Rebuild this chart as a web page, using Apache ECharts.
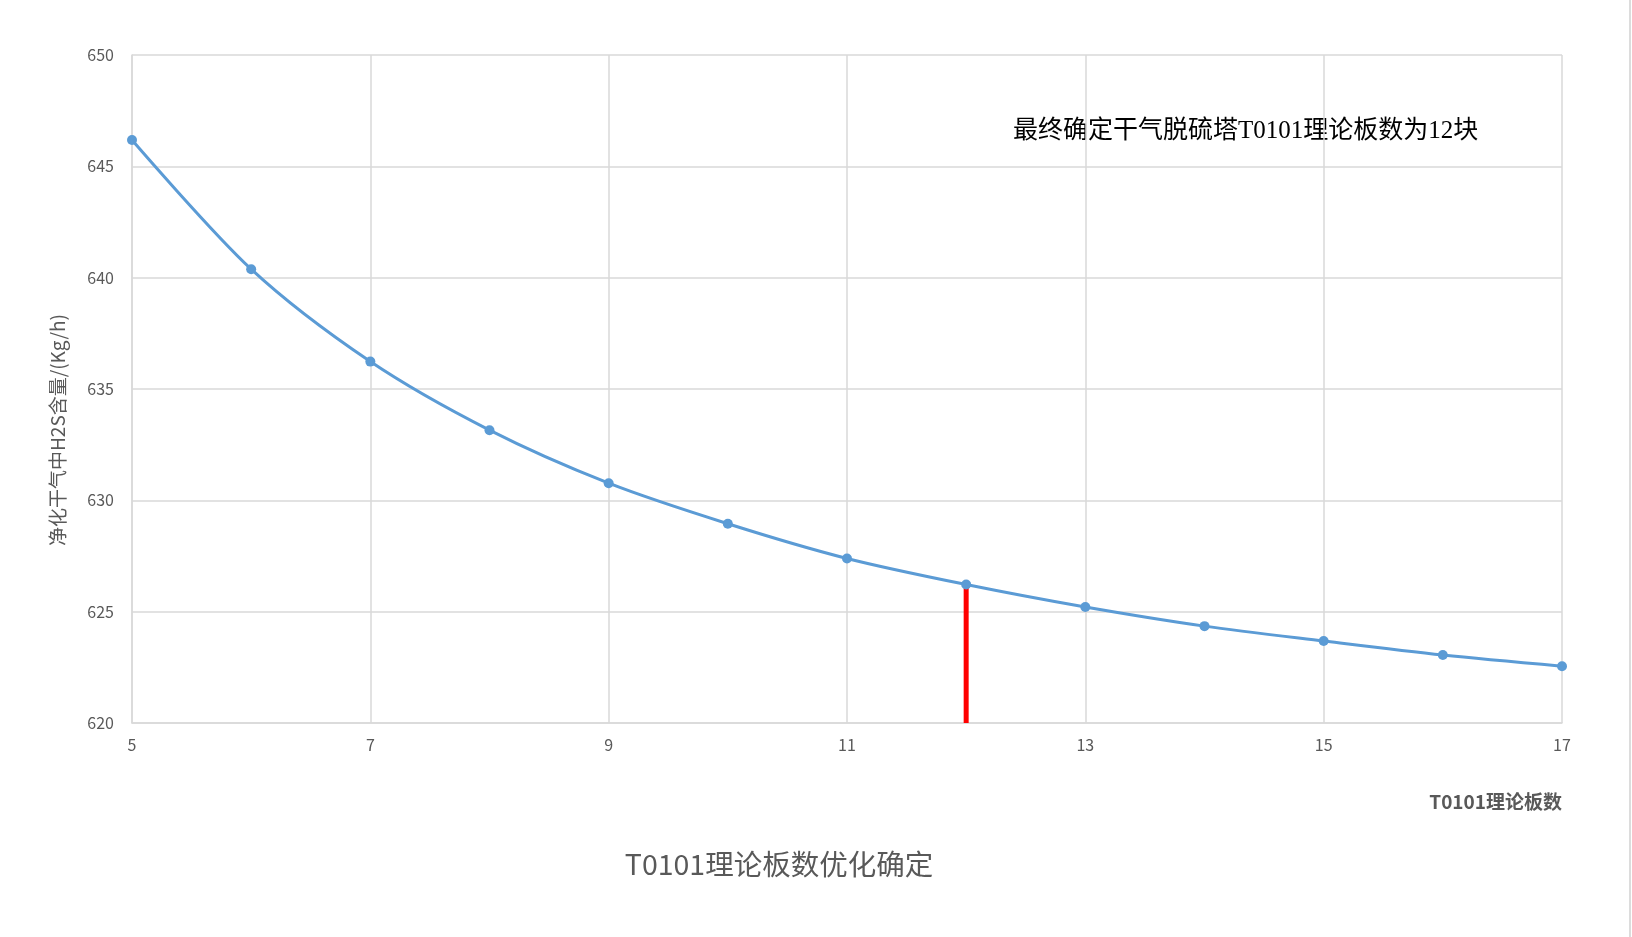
<!DOCTYPE html>
<html>
<head>
<meta charset="utf-8">
<script src="https://cdn.jsdelivr.net/npm/echarts@6/dist/echarts.min.js"></script>
<style>html,body{margin:0;padding:0;background:#fff;}#c{width:1632px;height:937px;}</style>
</head>
<body>
<div id="c"></div>
<script>
const plates = ['5','6','7','8','9','10','11','12','13','14','15','16','17'];
const h2sValues = [646.18, 640.38, 636.23, 633.15, 630.77, 628.95, 627.39, 626.22, 625.21, 624.35, 623.68, 623.05, 622.55];
const chosenPlate = '12';
const chosenBase = 620;
const chosenTop = 626.15;
const yTicks = { min: 620, max: 650, interval: 5 };
const titleText = 'T0101理论板数优化确定';
const noteText = '最终确定干气脱硫塔T0101理论板数为12块';
const xName = 'T0101理论板数';
const yName = '净化干气中H2S含量/(Kg/h)';

const chart = echarts.init(document.getElementById('c'));
const sans = '"Noto Sans CJK SC", "Noto Sans", sans-serif';
chart.setOption({
  backgroundColor: '#ffffff',
  animation: false,
  grid: { left: 132, right: 70, top: 55, bottom: 214 },
  xAxis: {
    type: 'category',
    data: plates,
    boundaryGap: false,
    axisLine: { show: true, lineStyle: { color: '#d9d9d9', width: 1.5 } },
    axisTick: { show: false },
    axisLabel: { interval: 1, color: '#595959', fontSize: 16, fontFamily: sans, margin: 14 },
    splitLine: { show: true, interval: 1, lineStyle: { color: '#d9d9d9', width: 1.5 } }
  },
  yAxis: {
    type: 'value',
    min: yTicks.min, max: yTicks.max, interval: yTicks.interval,
    axisLine: { show: true, lineStyle: { color: '#d9d9d9', width: 1.5 } },
    axisTick: { show: false },
    axisLabel: { color: '#595959', fontSize: 16, fontFamily: sans, margin: 18 },
    splitLine: { show: true, lineStyle: { color: '#d9d9d9', width: 1.5 } }
  },
  graphic: [
    { type: 'text', left: 1013, top: 119, style: { text: noteText, fill: '#000', fontSize: 25, fontFamily: '"Liberation Serif", "Noto Sans CJK SC", serif' } },
    { type: 'text', x: 779, y: 864, style: { text: titleText, fill: '#595959', fontSize: 28.5, fontFamily: sans, textAlign: 'center', textVerticalAlign: 'middle' } },
    { type: 'text', x: 1562, y: 802, style: { text: xName, fill: '#595959', fontSize: 19, fontWeight: 'bold', fontFamily: sans, textAlign: 'right', textVerticalAlign: 'middle' } },
    { type: 'text', x: 58, y: 430, rotation: Math.PI / 2, style: { text: yName, fill: '#595959', fontSize: 19, fontFamily: sans, textAlign: 'center', textVerticalAlign: 'middle' } },
    { type: 'line', shape: { x1: 1630, y1: 0, x2: 1630, y2: 937 }, style: { stroke: '#d0d0d0', lineWidth: 1.5 } }
  ],
  series: [
    {
      type: 'line',
      data: [[chosenPlate, chosenBase], [chosenPlate, chosenTop]],
      symbol: 'none',
      lineStyle: { color: '#ff0000', width: 5 },
      z: 3
    },
    {
      type: 'line',
      data: h2sValues,
      smooth: 0.3,
      symbol: 'circle',
      symbolSize: 10,
      itemStyle: { color: '#5b9bd5' },
      lineStyle: { color: '#5b9bd5', width: 3 },
      z: 4
    }
  ]
});
</script>
</body>
</html>
